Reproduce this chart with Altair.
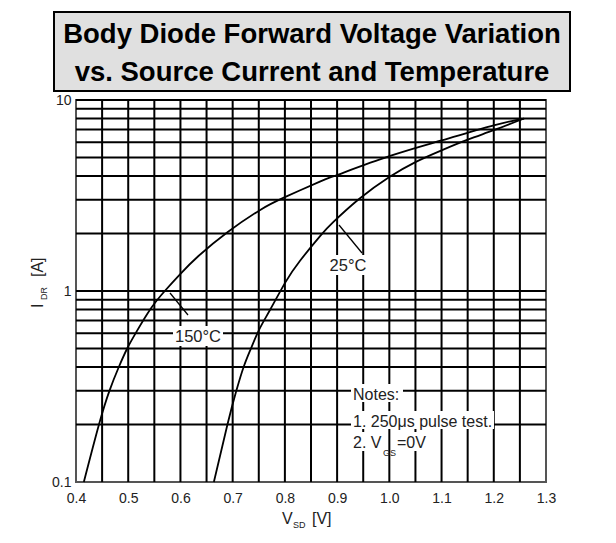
import altair as alt
import pandas as pd

# ---- data ----
v_150 = [0.415, 0.444, 0.464, 0.482, 0.498, 0.514, 0.542, 0.570, 0.600, 0.634,
         0.690, 0.752, 0.800, 0.867, 0.900, 1.000, 1.100, 1.200, 1.258]
i_150 = [0.1, 0.2, 0.3, 0.4, 0.5, 0.6, 0.8, 1.0, 1.23, 1.52,
         2.03, 2.65, 3.1, 3.74, 4.05, 5.08, 6.14, 7.36, 8.0]
v_25 = [0.664, 0.690, 0.707, 0.721, 0.735, 0.751, 0.772, 0.800, 0.829, 0.869,
        0.893, 0.942, 1.000, 1.050, 1.100, 1.150, 1.200, 1.258]
i_25 = [0.1, 0.2, 0.3, 0.4, 0.5, 0.63, 0.8, 1.1, 1.44, 1.96,
        2.3, 3.03, 3.95, 4.73, 5.45, 6.2, 6.95, 8.0]

x_ticks = [0.4, 0.5, 0.6, 0.7, 0.8, 0.9, 1.0, 1.1, 1.2, 1.3]
y_ticks = [0.1, 1, 10]
x_grid = [0.45, 0.5, 0.55, 0.6, 0.65, 0.7, 0.75, 0.8, 0.85, 0.9, 0.95,
          1.0, 1.05, 1.1, 1.15, 1.2, 1.25]
y_grid = [0.2, 0.3, 0.4, 0.5, 0.6, 0.7, 0.8, 0.9, 1, 2, 3, 4, 5, 6, 7, 8, 9, 10]

title_lines = ["Body Diode Forward Voltage Variation",
               "vs. Source Current and Temperature"]
notes = ["Notes:", "1. 250\u03bcs pulse test."]

FONT = "Liberation Sans, Arial, sans-serif"

curves = pd.concat([
    pd.DataFrame({"v": v_150, "i": i_150, "t": "150"}),
    pd.DataFrame({"v": v_25, "i": i_25, "t": "25"}),
])

xs = alt.Scale(domain=[0.4, 1.3], nice=False, zero=False)
ys = alt.Scale(type="log", domain=[0.1, 10], nice=False)

one = pd.DataFrame({"a": [0]})

vgrid = alt.Chart(pd.DataFrame({"v": x_grid})).mark_rule(
    color="black", strokeWidth=2).encode(x=alt.X("v:Q", scale=xs))
hgrid = alt.Chart(pd.DataFrame({"i": y_grid})).mark_rule(
    color="black", strokeWidth=2).encode(y=alt.Y("i:Q", scale=ys))

lines = alt.Chart(curves).mark_line(
    color="black", strokeWidth=1.8, interpolate="natural").encode(
    x=alt.X("v:Q", scale=xs,
            axis=alt.Axis(values=x_ticks, format=".1f", title=None, grid=False,
                          ticks=False, domain=False, labelFlush=False,
                          labelPadding=9, labelFont=FONT, labelFontSize=14,
                          labelColor="#222")),
    y=alt.Y("i:Q", scale=ys,
            axis=alt.Axis(values=y_ticks, format="~g", title=None, grid=False,
                          ticks=False, domain=False, labelFlush=False,
                          labelPadding=5, labelFont=FONT, labelFontSize=14,
                          labelColor="#222")),
    detail="t:N",
)


def box(x1, x2, y1, y2, fill="white", stroke=None, sw=0):
    kw = dict(fill=fill)
    if stroke:
        kw.update(stroke=stroke, strokeWidth=sw)
    return alt.Chart(one).mark_rect(**kw).encode(
        x=alt.value(x1), x2=alt.value(x2), y=alt.value(y1), y2=alt.value(y2))


def txt(s, x, y, size=16, font=FONT, align="left", baseline="alphabetic",
        weight="normal", angle=0, color="#222"):
    kw = dict(text=s, fontSize=size, font=font, align=align, baseline=baseline,
              fontWeight=weight, color=color)
    if angle:
        kw["angle"] = angle
    return alt.Chart(one).mark_text(**kw).encode(x=alt.value(x), y=alt.value(y))


def seg(x1, y1, x2, y2):
    return alt.Chart(one).mark_rule(color="black", strokeWidth=1.3).encode(
        x=alt.value(x1), y=alt.value(y1), x2=alt.value(x2), y2=alt.value(y2))


layers = [
    vgrid, hgrid, lines,
    # curve labels
    box(97, 147, 226, 246), txt("150\u00b0C", 122, 242, size=16.5, align="center"),
    seg(94, 193, 112, 215),
    box(251, 294, 155, 175), txt("25\u00b0C", 272, 171, size=16.5, align="center"),
    seg(263, 125, 286, 153),
    # notes
    box(275, 327, 284, 302), txt(notes[0], 277, 300),
    box(275, 418, 311, 329), txt(notes[1], 277, 327),
    box(275, 306, 332, 351), txt("2. V", 277, 348),
    box(320, 352, 332, 351), txt("GS", 307, 356, size=9),
    txt("=0V", 321, 348),
    # title box
    box(-22, 494, -88, -9, fill="#e0e0e0", stroke="black", sw=2),
    txt(title_lines[0], 236, -57, size=27.5, align="center", weight="bold",
        color="black"),
    txt(title_lines[1], 236, -19, size=27.5, align="center", weight="bold",
        color="black"),
    # axis titles
    txt("V", 206, 424, size=16), txt("SD", 217, 428, size=9),
    txt("[V]", 236, 424, size=16),
    txt("I", -33, 208, size=16, angle=270),
    txt("DR", -29, 200, size=9, angle=270),
    txt("[A]", -33, 177, size=16, angle=270),
]

chart = alt.layer(*layers).properties(
    width=470, height=382,
    autosize=alt.AutoSizeParams(type="none"),
    padding={"left": 68, "top": 92, "right": 60, "bottom": 53},
).configure_view(stroke="#555", strokeWidth=2)

chart.save("out.html", embed_options={"renderer": "svg", "actions": False})
